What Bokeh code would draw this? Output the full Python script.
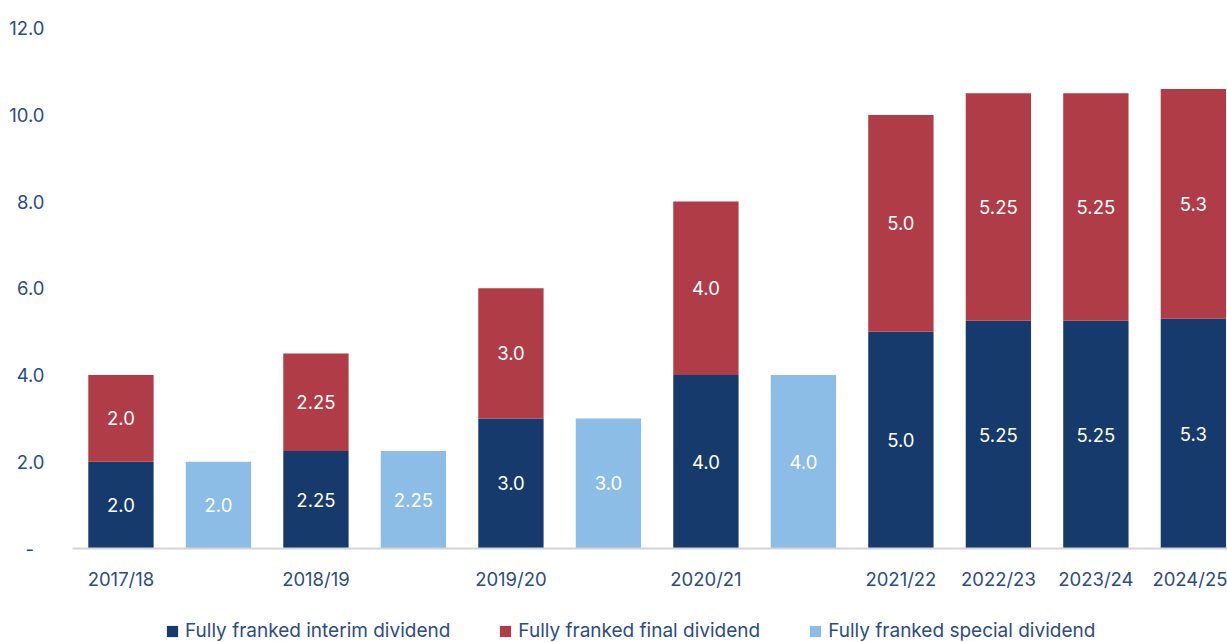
from bokeh.plotting import figure
from bokeh.layouts import column
from bokeh.models import ColumnDataSource, FixedTicker, Range1d, Legend, LegendItem
from bokeh.core.properties import value
from bokeh.embed import file_html
from bokeh.resources import INLINE

# ---- data ----
x_labels = ["2017/18", "", "2018/19", "", "2019/20", "", "2020/21", "",
            "2021/22", "2022/23", "2023/24", "2024/25"]
interim = [2.0, 0, 2.25, 0, 3.0, 0, 4.0, 0, 5.0, 5.25, 5.25, 5.3]
final = [2.0, 0, 2.25, 0, 3.0, 0, 4.0, 0, 5.0, 5.25, 5.25, 5.3]
special = [0, 2.0, 0, 2.25, 0, 3.0, 0, 4.0, 0, 0, 0, 0]
interim_lbl = ["2.0", "", "2.25", "", "3.0", "", "4.0", "", "5.0", "5.25", "5.25", "5.3"]
final_lbl = ["2.0", "", "2.25", "", "3.0", "", "4.0", "", "5.0", "5.25", "5.25", "5.3"]
special_lbl = ["", "2.0", "", "2.25", "", "3.0", "", "4.0", "", "", "", ""]
y_ticks = [0, 2, 4, 6, 8, 10, 12]
y_tick_labels = ["-\u00a0\u00a0", "2.0", "4.0", "6.0", "8.0", "10.0", "12.0"]
series_names = ["Fully franked interim dividend", "Fully franked final dividend",
                "Fully franked special dividend"]

C_INT = "#163a6c"
C_FIN = "#b03c48"
C_SPE = "#8bbde6"
TXT = "#2c4c82"
FONT = "Inter"
colors = [C_INT, C_FIN, C_SPE]

xs = list(range(len(x_labels)))
src = ColumnDataSource(dict(
    x=xs, interim=interim, final=final, special=special,
))

p = figure(width=1227, height=600, output_backend="svg", toolbar_location=None,
           x_range=Range1d(-0.497, 11.35), y_range=Range1d(0, 12.5),
           min_border_left=72, min_border_right=0, min_border_top=6,
           min_border_bottom=52)
p.outline_line_color = None
p.grid.grid_line_color = None
p.background_fill_color = "white"
p.border_fill_color = "white"

r = p.vbar_stack(["interim", "final", "special"], x="x", width=0.67, source=src,
                 color=colors, line_color=None)

# labels
lx, ly, lt = [], [], []
for i in xs:
    if interim[i]:
        lx.append(i); ly.append(interim[i] / 2); lt.append(interim_lbl[i])
    if final[i]:
        lx.append(i); ly.append(interim[i] + final[i] / 2); lt.append(final_lbl[i])
    if special[i]:
        lx.append(i); ly.append(special[i] / 2); lt.append(special_lbl[i])
p.text(x=lx, y=ly, text=lt, text_color="white", text_align="center",
       text_baseline="middle", text_font=value(FONT), text_font_size="18.5px")

# axes
xa = p.xaxis[0]
xa.ticker = FixedTicker(ticks=[i for i in xs if x_labels[i]])
xa.major_label_overrides = {i: x_labels[i] for i in xs if x_labels[i]}
xa.axis_line_color = "#d4d4d4"
xa.axis_line_width = 2
xa.major_tick_line_color = None
xa.minor_tick_line_color = None
xa.major_label_standoff = 13
xa.major_label_text_font = FONT
xa.major_label_text_font_size = "18.5px"
xa.major_label_text_color = TXT

ya = p.yaxis[0]
ya.ticker = FixedTicker(ticks=y_ticks)
ya.major_label_overrides = {t: l for t, l in zip(y_ticks, y_tick_labels)}
ya.axis_line_color = None
ya.major_tick_line_color = None
ya.minor_tick_line_color = None
ya.major_label_standoff = 22
ya.major_label_text_font = FONT
ya.major_label_text_font_size = "18.5px"
ya.major_label_text_color = TXT

# legend strip (same series, drawn out of its view so only the legend shows)
lg = figure(width=1227, height=42, output_backend="svg", toolbar_location=None,
            x_range=Range1d(-0.497, 11.35), y_range=Range1d(100, 101),
            min_border=0, min_border_left=72, min_border_right=0,
            min_border_top=0, min_border_bottom=0)
lg.axis.visible = False
lg.grid.grid_line_color = None
lg.outline_line_color = None
lg.background_fill_color = "white"
lr = lg.vbar_stack(["interim", "final", "special"], x="x", width=0.67, source=src,
                   color=colors, line_color=None)
legend = Legend(items=[LegendItem(label=series_names[k], renderers=[lr[k]]) for k in range(3)],
                orientation="horizontal", location=(93, 0),
                glyph_width=14, glyph_height=14, label_standoff=6, spacing=48,
                label_text_font=FONT, label_text_font_size="19px",
                label_text_color=TXT, border_line_color=None,
                background_fill_alpha=0, padding=0, margin=0)
lg.add_layout(legend, "center")

open("out.html", "w").write(file_html(column(p, lg, spacing=0), INLINE))
